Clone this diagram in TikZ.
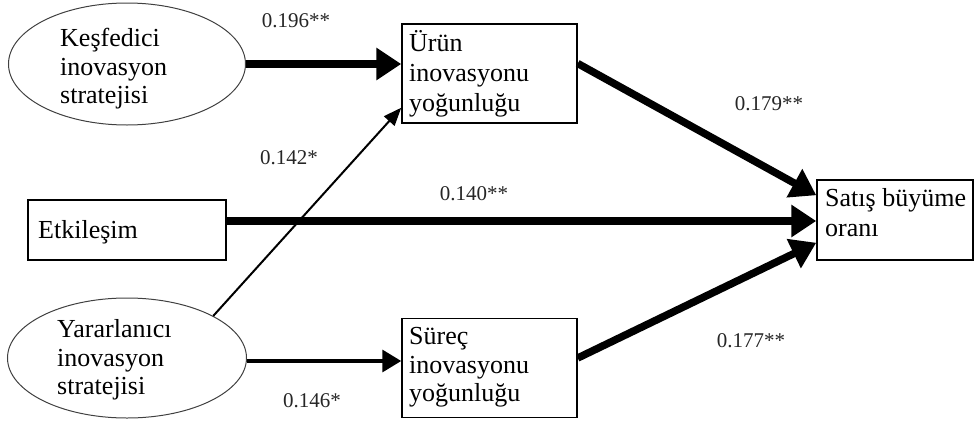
\documentclass[tikz,border=0pt]{standalone}
\usepackage{fontspec}
\setmainfont{Liberation Serif}
\usetikzlibrary{shapes.geometric,arrows.meta}
\begin{document}
\begin{tikzpicture}[x=1pt,y=-1pt,
  ell/.style={draw=black!75, line width=1pt, ellipse, inner sep=0pt},
  box/.style={draw, line width=1.5pt, rectangle, inner sep=0pt},
  txt/.style={font=\fontsize{26}{28.5}\selectfont, align=left, inner sep=0pt},
  lbl/.style={font=\fontsize{21}{24}\selectfont, inner sep=0pt, text=black!85},
  bigarr/.style={line width=7.5pt, -{Triangle[length=25pt,width=31pt]}},
  midarr/.style={line width=3.5pt, -{Triangle[length=19pt,width=22pt]}},
  thinarr/.style={line width=2pt, -{Triangle[length=18pt,width=14pt]}},
]
\useasboundingbox (0,0) rectangle (974,423);
% nodes
\node[ell, minimum width=237pt, minimum height=122pt] (kes) at (127,64) {};
\node[txt, anchor=west] (kest) at (60,69) {Keşfedici\\inovasyon\\stratejisi};
\node[ell, minimum width=239pt, minimum height=120pt] (yar) at (127,358) {};
\node[txt, anchor=west] (yart) at (57,360) {Yararlanıcı\\inovasyon\\stratejisi};
\node[box, minimum width=175pt, minimum height=99pt] (urun) at (489.5,73.5) {};
\node[txt, anchor=west, font=\fontsize{26}{30}\selectfont] (urunt) at (409,74) {Ürün\\inovasyonu\\yoğunluğu};
\node[box, minimum width=175pt, minimum height=99pt] (sur) at (489.5,368) {};
\node[txt, anchor=west] (surt) at (409,367.5) {Süreç\\inovasyonu\\yoğunluğu};
\node[box, minimum width=156pt, minimum height=80pt] (sat) at (895,220) {};
\node[txt, anchor=west, font=\fontsize{26}{30}\selectfont] (satt) at (825,213) {Satış büyüme\\oranı};
\node[box, minimum width=198pt, minimum height=60pt] (etk) at (127,230) {};
\node[txt, anchor=base west] (etkt) at (38,238) {Etkileşim};
% connectors
\draw[bigarr] (kes.east) -- (kes.east -| urun.west);
\draw[bigarr] ([yshift=9pt]etk.east) -- ([yshift=9pt]etk.east -| sat.west);
\draw[bigarr] ([yshift=10pt]urun.east) -- ([yshift=-16pt]sat.north west);
\draw[bigarr] ([yshift=10pt]sur.east) -- ([yshift=18pt]sat.south west);
\draw[midarr] ([yshift=-3pt]yar.east) -- ([yshift=-3pt]yar.east -| sur.west);
\draw[thinarr] (yar.26) -- ([yshift=16pt]urun.south west);
% labels
\node[lbl] (l1) at (296,21) {0.196**};
\node[lbl] (l2) at (769,104) {0.179**};
\node[lbl] (l3) at (289,158) {0.142*};
\node[lbl] (l4) at (474,194) {0.140**};
\node[lbl] (l5) at (312,401) {0.146*};
\node[lbl] (l6) at (751,341) {0.177**};
\end{tikzpicture}
\end{document}
